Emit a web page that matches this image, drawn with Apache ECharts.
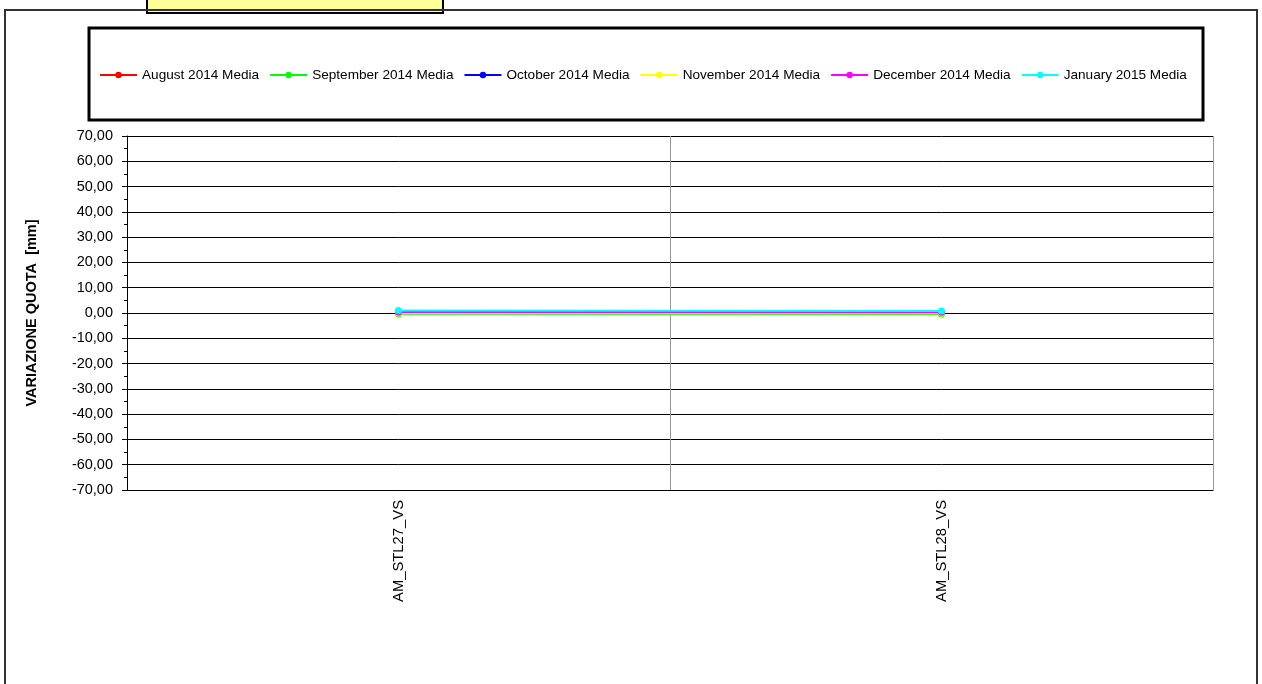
<!DOCTYPE html>
<html>
<head>
<meta charset="utf-8">
<script src="https://cdn.jsdelivr.net/npm/echarts@6/dist/echarts.min.js"></script>
<style>
html,body{margin:0;padding:0;background:#fff;}
#chart{width:1262px;height:684px;}
</style>
</head>
<body>
<div id="chart"></div>
<script>
var categories = ['AM_STL27_VS', 'AM_STL28_VS'];
var seriesNames = ['August 2014 Media', 'September 2014 Media', 'October 2014 Media', 'November 2014 Media', 'December 2014 Media', 'January 2015 Media'];
var seriesColors = ['#ff0000', '#00ff00', '#0000ff', '#ffff00', '#ff00ff', '#00ffff'];
var augustValues = [0.2, 0.1];
var septemberValues = [-0.3, -0.4];
var octoberValues = [0.3, 0.2];
var novemberValues = [0.0, -0.1];
var decemberValues = [0.4, 0.3];
var januaryValues = [1.0, 0.8];
var allValues = [augustValues, septemberValues, octoberValues, novemberValues, decemberValues, januaryValues];

var chart = echarts.init(document.getElementById('chart'));
var font = 'Liberation Sans, Arial, sans-serif';
var series = seriesNames.map(function (n, i) {
  return {
    name: n,
    type: 'line',
    data: allValues[i],
    symbol: 'circle',
    symbolSize: 7,
    showSymbol: true,
    lineStyle: { color: seriesColors[i], width: 2 },
    itemStyle: { color: seriesColors[i] },
    z: 3 + i,
    animation: false
  };
});

chart.setOption({
  animation: false,
  backgroundColor: '#fff',
  textStyle: { fontFamily: font },
  graphic: [
    { type: 'rect', shape: { x: 147, y: -5, width: 296, height: 18 }, style: { fill: '#ffff99', stroke: '#000', lineWidth: 2 }, z: 10 },
    { type: 'rect', shape: { x: 5, y: 10, width: 1252, height: 690 }, style: { fill: 'none', stroke: '#333', lineWidth: 2 }, z: 10 },
    { type: 'rect', shape: { x: 89, y: 28, width: 1114, height: 92 }, style: { fill: 'none', stroke: '#000', lineWidth: 3 }, z: 10 }
  ],
  legend: {
    data: seriesNames,
    top: 68,
    left: 99,
    padding: 0,
    itemWidth: 37,
    itemHeight: 8,
    itemGap: 10,
    lineStyle: { width: 2 },
    textStyle: { fontSize: 13.6, color: '#000', fontFamily: font }
  },
  grid: { left: 127, right: 49, top: 136, bottom: 194, containLabel: false },
  xAxis: {
    type: 'category',
    data: categories,
    boundaryGap: true,
    axisLine: { onZero: false, lineStyle: { color: '#000', width: 1 } },
    axisTick: { show: false },
    splitLine: { show: true, lineStyle: { color: '#999', width: 1 } },
    axisLabel: { rotate: 90, fontSize: 14.8, color: '#000', margin: 10, fontFamily: font }
  },
  yAxis: {
    type: 'value',
    min: -70,
    max: 70,
    interval: 10,
    name: 'VARIAZIONE QUOTA  [mm]',
    nameLocation: 'middle',
    nameGap: 88,
    nameTextStyle: { fontWeight: 'bold', fontSize: 14.5, color: '#000', fontFamily: font },
    axisLine: { show: true, lineStyle: { color: '#000' } },
    axisTick: { show: true, length: 5, lineStyle: { color: '#000' } },
    minorTick: { show: true, splitNumber: 2, length: 3, lineStyle: { color: '#000' } },
    splitLine: { show: true, lineStyle: { color: '#000', width: 1 } },
    axisLabel: {
      fontSize: 14.5, color: '#000', margin: 14, fontFamily: font,
      formatter: function (v) { return v.toFixed(2).replace('.', ','); }
    }
  },
  series: series
});
</script>
</body>
</html>
